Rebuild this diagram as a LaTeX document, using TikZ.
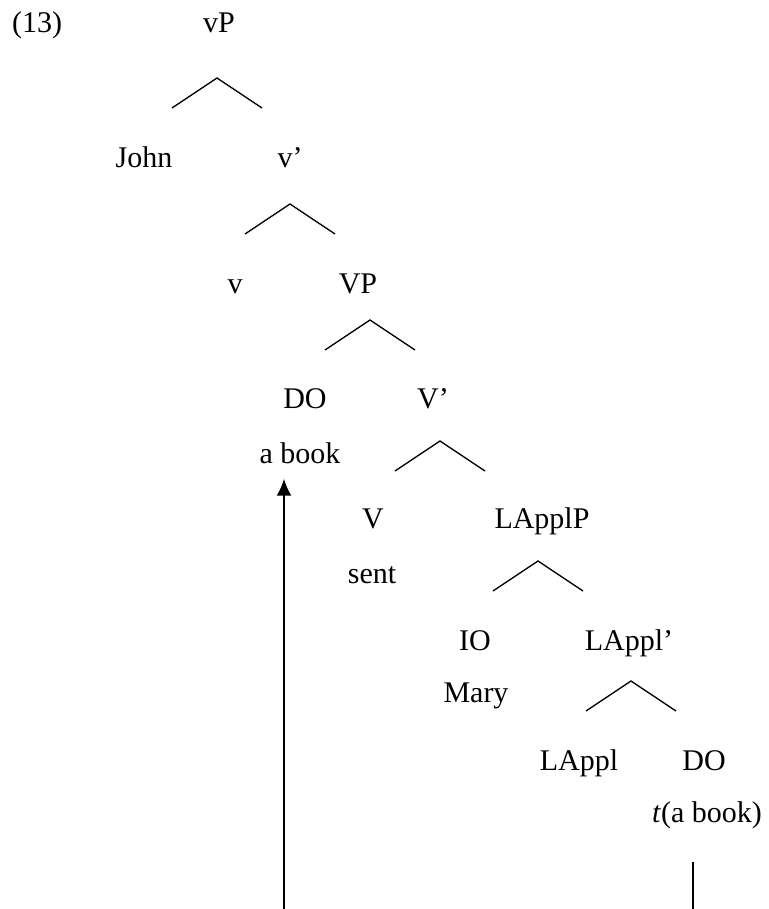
\documentclass[tikz,border=0pt]{standalone}
\usepackage{fontspec}
\setmainfont{Liberation Serif}
\usetikzlibrary{arrows.meta}

\begin{document}
\begin{tikzpicture}[x=0.5pt,y=-0.5pt,>=Latex,
  lbl/.style={anchor=base,inner sep=0pt,font=\fontsize{15}{18}\selectfont},
  branch/.style={line width=0.65pt},
  move/.style={line width=1pt}]
\useasboundingbox (0,0) rectangle (768,909);
% labels of the tree
\node[lbl] (ex) at (37,33) {(13)};
\node[lbl] (vP) at (219,33) {vP};
\node[lbl] (John) at (144,168) {John};
\node[lbl] (vbar) at (290,168) {v’};
\node[lbl] (v) at (235,293) {v};
\node[lbl] (VP) at (358,293) {VP};
\node[lbl] (DO) at (305,408) {DO};
\node[lbl] (Vbar) at (433,408) {V’};
\node[lbl] (abook) at (300,463) {a book};
\node[lbl] (V) at (373,528) {V};
\node[lbl] (LApplP) at (542,528) {LApplP};
\node[lbl] (sent) at (372,583) {sent};
\node[lbl] (IO) at (475,650) {IO};
\node[lbl] (LApplbar) at (629,650) {LAppl’};
\node[lbl] (Mary) at (476,702) {Mary};
\node[lbl] (LAppl) at (579,770) {LAppl};
\node[lbl] (DOlow) at (704,770) {DO};
\node[lbl] (tbook) at (707,822) {\textit{t}(a book)};
% branches
\foreach \x/\y [count=\i] in {217/78,290/204,370/320,440/441,538/561,631/681}{
  \coordinate (top\i) at (\x,\y);
  \draw[branch] (top\i) ++(-45,30) -- (top\i) -- ++(45,30);
}
% movement
\coordinate (foot1) at (284,909);
\coordinate (foot2) at (693,909);
\draw[move,-{Latex[length=8.5pt,width=7.5pt]},shorten >=7.5pt] (foot1) -- (foot1 |- abook.south);
\draw[move,shorten >=16.5pt] (foot2) -- (foot2 |- tbook.south);
\end{tikzpicture}
\end{document}
